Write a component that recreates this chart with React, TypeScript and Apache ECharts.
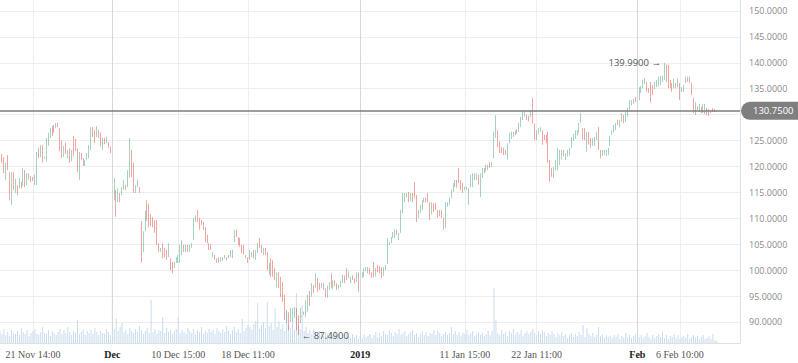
import React, { useEffect, useRef } from 'react';
import * as echarts from 'echarts';

// [open, close] per candle
const candlesLateNov: number[][] = [
  [121.6,125.3],[122.4,120.7],[121.8,118.7],[117.4,120.7],[122.2,119.3],[118.9,113.5],[112.6,118.9],[118.9,115.5],[114.9,117.6],[116.4,114.5],
  [115.8,117.8],[117.0,115.8],[116.2,119.7],[119.3,116.0],[116.4,118.7],[117.4,118.7],[118.2,117.0],[118.0,117.2],[116.4,118.4],[116.4,122.8],
  [123.6,121.6],[121.8,124.1],[124.1,120.8],[121.5,121.9],[121.0,125.5],[124.0,126.5],[125.5,127.4],[127.8,125.9],[128.0,126.5],[127.4,128.4],
  [128.4,127.6],[127.4,123.0],[125.0,121.6],[121.8,124.0],[124.6,122.4],[121.6,123.2],[123.5,120.7],[121.0,123.2],[125.9,122.0],[125.3,123.0],
  [123.5,118.9],[117.4,122.8],[122.6,121.2],[121.6,120.1],[120.1,121.2],[121.2,122.6],[121.6,124.1],[123.2,127.6],[127.6,125.7],[127.0,124.5],
  [125.7,127.8],[127.0,125.5],[126.6,123.8],[123.2,125.5],[125.5,124.3],[124.5,125.7],[124.7,123.6],[123.8,122.6],[123.6,122.6],
];
const candlesDec: number[][] = [
  [113.5,117.8],[115.5,110.3],[113.1,115.8],[114.9,113.1],[114.5,116.0],[115.5,117.4],[116.4,115.5],[116.0,119.3],[117.8,125.5],[123.2,118.0],
  [120.7,114.9],[114.9,116.4],[116.0,117.4],[116.0,114.9],[109.5,101.5],[103.5,107.5],[107.5,111.5],[113.5,109.5],[112.9,108.3],[110.8,108.5],
  [110.2,108.3],[109.7,107.2],[109.7,104.9],[105.2,103.5],[103.5,104.3],[105.2,102.3],[104.3,102.5],[103.9,102.0],[102.5,105.2],[102.3,100.0],
  [101.6,99.4],[100.4,101.6],[101.4,102.5],[101.4,102.9],[101.4,104.9],[102.9,105.8],[104.9,103.5],[103.5,104.9],[104.9,103.5],[103.5,104.9],
  [104.3,105.2],[105.8,110.1],[109.3,110.6],[111.6,109.3],[110.1,107.8],[109.7,108.7],[109.3,107.8],[108.3,105.4],[106.8,105.2],[105.2,103.9],
  [105.0,103.9],[102.5,103.5],[102.9,102.0],[101.4,102.3],[102.5,101.4],[101.6,102.5],[101.8,102.5],[102.9,102.3],[101.8,102.5],[102.9,102.3],
  [102.5,103.9],[102.3,103.9],[105.4,107.8],[107.8,106.4],[106.4,104.9],[106.2,104.5],[104.9,103.3],[104.9,103.0],[102.9,102.3],[102.5,101.4],
];
const candlesLateDec: number[][] = [
  [102.0,103.9],[102.5,103.5],[103.9,102.3],[102.0,103.9],[103.3,105.2],[106.2,104.3],[104.9,103.3],[102.9,104.3],[104.3,102.9],[103.5,100.0],
  [99.1,101.4],[102.3,98.7],[101.9,98.7],[100.4,98.1],[96.7,99.6],[99.6,96.5],[98.7,94.8],[97.7,93.9],[95.2,90.4],[89.8,92.3],
  [91.9,88.4],[90.0,92.7],[90.0,92.7],[90.8,92.9],[92.7,88.4],[91.3,87.49],[89.8,92.7],[91.0,91.2],[92.0,91.4],[91.0,94.2],
  [92.0,95.2],[96.0,93.1],[94.9,97.5],[97.1,95.6],[96.6,99.4],[98.5,95.8],[97.5,96.2],[96.5,97.5],[97.5,96.2],[96.5,94.8],
  [94.7,97.0],[96.2,97.7],[99.4,96.6],[96.3,98.0],[98.0,96.9],[97.5,96.2],[96.4,97.2],[96.7,98.0],[97.5,99.1],[99.0,97.5],
  [100.4,98.1],[98.5,99.8],[97.5,98.7],[99.0,98.1],[98.5,97.4],[97.7,99.6],[99.6,95.8],[97.7,99.6],[98.5,99.6],[98.7,100.4],
  [99.8,100.6],
];
const candlesEarlyJan: number[][] = [
  [99.4,100.6],[100.4,99.1],[99.6,98.5],[101.6,98.7],[98.8,100.4],[101.0,99.6],[100.8,99.4],[100.6,98.5],[98.9,100.6],[100.0,101.0],
  [101.2,106.2],[104.9,105.4],[105.2,106.4],[106.2,107.4],[106.2,107.8],[107.8,106.8],[105.8,107.2],[107.2,111.6],[111.0,114.9],[113.1,114.9],
  [114.0,114.9],[115.1,113.1],[113.3,114.9],[114.9,113.1],[117.0,113.9],[114.5,109.3],[110.1,111.6],[111.1,112.6],[111.6,113.5],[113.1,114.0],
  [114.0,113.1],[114.9,113.1],[113.1,109.7],[110.8,113.1],[112.9,111.3],[112.9,111.6],[111.6,110.1],[111.6,110.4],[111.6,110.1],[110.1,107.8],
  [108.1,113.1],[112.2,113.1],[112.6,114.0],[113.9,115.5],[115.1,116.8],[116.0,117.4],[117.4,115.9],[119.7,116.8],[117.4,115.5],[116.8,114.9],
  [115.4,116.1],[115.5,116.1],[112.6,115.8],[116.0,118.4],[116.0,118.7],[117.4,118.7],[117.4,118.7],[118.4,116.5],[114.1,118.7],[117.8,119.7],
  [119.7,118.7],[119.0,120.3],[119.3,120.3],[120.9,119.7],
];
const candlesLateJan: number[][] = [
  [119.9,120.9],[121.6,126.7],[125.5,129.9],[127.0,123.8],[124.9,122.6],[123.8,122.6],[123.6,122.2],[123.2,122.2],[121.3,124.5],[124.5,126.5],
  [125.3,126.7],[125.7,126.7],[126.0,127.0],[127.2,126.3],[126.7,128.4],[127.6,129.6],[129.0,130.5],[129.6,130.7],[130.0,129.0],[129.8,128.7],
  [129.5,130.7],[133.2,128.3],[128.3,125.1],[125.1,127.0],[126.2,127.4],[126.7,127.6],[127.0,124.2],[126.1,125.1],[126.1,124.5],[126.7,120.7],
  [121.3,117.0],[119.7,118.0],[117.8,119.9],[119.3,121.3],[119.3,123.6],[120.3,123.2],[121.3,123.2],[123.2,122.0],[121.3,122.6],[121.9,123.2],
  [122.2,123.6],[123.6,125.7],[124.9,126.3],[125.3,127.0],[126.0,127.0],[126.5,128.4],[128.4,130.3],[127.4,125.1],[127.4,125.1],[122.8,126.7],
  [126.7,124.2],[125.5,123.6],[124.0,125.5],[124.0,125.7],[125.1,126.7],[127.6,123.2],[123.2,121.6],[122.0,123.2],[122.2,123.2],[122.0,123.2],
  [122.2,123.6],
];
const candlesFeb: number[][] = [
  [124.0,125.9],[126.1,127.0],[126.5,128.0],[127.0,128.4],[129.0,128.0],[127.6,129.0],[128.6,130.3],[130.0,128.4],[128.6,130.5],[129.6,131.3],
  [130.9,132.8],[131.8,132.8],[132.1,133.0],[133.4,132.4],[135.1,131.3],[132.8,135.3],[134.2,135.5],[135.1,136.7],[135.9,137.1],[136.3,134.4],
  [135.1,134.2],[136.3,132.4],[135.7,133.8],[134.9,136.3],[135.3,136.7],[135.5,137.3],[135.7,137.5],[136.3,137.5],[136.7,139.99],[139.7,136.3],
  [139.6,135.1],[136.7,135.1],[136.1,134.4],[135.1,136.9],[136.1,135.1],[135.3,137.1],[136.1,132.8],[134.4,135.3],[134.4,135.7],[136.1,137.3],
  [137.3,136.3],[137.3,136.1],[136.1,133.8],[133.2,130.3],[129.9,132.4],[131.6,130.9],[130.5,132.1],[131.5,130.3],[130.3,132.1],[130.1,132.1],
  [131.3,129.9],[131.1,129.7],[130.3,130.9],[131.3,130.5],[131.1,130.5],[130.6,130.75],
];

// volume heights (arbitrary units)
const volumeLateNov = [12,9,14,8,11,7,13,10,9,12,8,15,11,9,13,7,10,12,14,9,8,11,16,10,9,13,7,12,10,8,11,14,9,13,10,16,11,8,12,10,23,9,11,14,8,12,10,13,9,15,11,8,12,10,9,14,11,8,70];
const volumeDec = [14,25,12,16,20,11,13,9,15,12,10,14,11,17,13,9,12,15,10,43,11,14,9,13,12,26,10,15,11,13,9,12,14,26,10,13,11,9,15,12,10,14,8,13,11,16,9,12,10,14,11,13,9,15,12,10,14,11,17,12,9,13,16,11,14,10,24,12,15,18];
const volumeLateDec = [16,13,19,22,40,14,18,21,15,41,17,20,13,35,16,22,14,19,12,32,18,15,21,13,50,17,14,38,12,16,10,13,9,14,11,8,12,10,7,11,9,6,10,8,12,7,9,5,8,6,10,7,5,9,6,8,4,7,5,9,6];
const volumeEarlyJan = [7,9,5,8,11,6,10,7,12,9,8,13,10,7,11,9,14,8,10,12,7,9,11,13,8,10,6,9,12,8,11,7,10,9,13,8,12,10,7,9,11,8,10,16,9,12,8,11,7,10,9,13,8,10,12,7,9,11,8,10,7,9,12,8];
const volumeLateJan = [12,55,23,10,8,13,9,11,7,12,10,14,8,11,9,13,7,10,12,9,11,14,10,8,12,9,13,11,7,10,8,12,9,6,10,8,11,7,9,5,8,10,6,9,7,11,8,18,6,15,9,7,10,6,8,16,7,9,5,8,6];
const volumeFeb = [7,5,8,6,9,4,7,5,10,6,8,5,7,9,4,6,8,5,7,10,6,4,8,5,7,9,6,11,5,8,4,7,6,9,5,8,4,6,7,5,9,4,6,8,5,7,3,6,8,4,5,7,4,9,3,2];

const tickIndex = [17, 58, 92, 128, 186, 240, 277, 329, 351];
const tickLabels = ['21 Nov 14:00', 'Dec', '10 Dec 15:00', '18 Dec 11:00', '2019', '11 Jan 15:00', '22 Jan 11:00', 'Feb', '6 Feb 10:00'];
const boldTicks = ['Dec', '2019', 'Feb'];
const priceTicks = [90, 95, 100, 105, 110, 115, 120, 125, 130, 135, 140, 145, 150];
const priceMin = 85.948;
const priceMax = 152.122;
const lastPrice = 130.75;
const SLOTS = 383;

export default function App() {
  const ref = useRef<HTMLDivElement>(null);
  useEffect(() => {
    if (!ref.current) return;
    const chart = echarts.init(ref.current, undefined, { renderer: 'svg' });
    const oc = [...candlesLateNov, ...candlesDec, ...candlesLateDec, ...candlesEarlyJan, ...candlesLateJan, ...candlesFeb];
    const candles = oc.map(([o, c]) => [o, c, Math.min(o, c), Math.max(o, c)]);
    const volumes = [...volumeLateNov, ...volumeDec, ...volumeLateDec, ...volumeEarlyJan, ...volumeLateJan, ...volumeFeb];
    const cats = Array.from({ length: SLOTS }, (_, i) => 'k' + i);
    const labelMap: Record<number, string> = {};
    tickIndex.forEach((idx, k) => (labelMap[idx] = tickLabels[k]));
    const isTick = (i: number) => labelMap[i] !== undefined;
    const monthLines = tickIndex.filter((_, k) => boldTicks.includes(tickLabels[k])).map((i) => ({ xAxis: 'k' + i }));
    // the 130 label is covered by the last-price tag in the reference
    const labelTicks = priceTicks.filter((v) => Math.abs(v - lastPrice) > 2);
    const grid = '#eceef1';
    const up = '#4fa57a';
    const down = '#e24e43';

    chart.setOption({
      animation: false,
      backgroundColor: '#ffffff',
      grid: [{ left: 0, right: 58, top: 0, bottom: 20 }],
      xAxis: [
        {
          type: 'category', gridIndex: 0, data: cats, boundaryGap: false,
          axisLine: { show: true, lineStyle: { color: '#dde1e5' } },
          axisTick: { show: false, interval: (i: number) => isTick(i) },
          axisLabel: {
            interval: (i: number) => isTick(i),
            margin: 6,
            fontFamily: 'Liberation Serif',
            fontSize: 10,
            formatter: (_v: string, i: number) => {
              const t = labelMap[i];
              if (!t) return '';
              return boldTicks.includes(t) ? `{b|${t}}` : `{n|${t}}`;
            },
            rich: {
              b: { fontFamily: 'Liberation Serif', fontSize: 10, fontWeight: 'bold', color: '#1a1a1a' },
              n: { fontFamily: 'Liberation Serif', fontSize: 10, color: '#555555' },
            },
          },
          splitLine: { show: true, interval: (i: number) => isTick(i), lineStyle: { color: grid, width: 1 } },
        },
      ],
      yAxis: [
        {
          type: 'value', gridIndex: 0, position: 'right', min: priceMin, max: priceMax,
          axisLine: { show: false },
          axisTick: { show: false, customValues: priceTicks },
          axisLabel: {
            customValues: labelTicks, margin: 9,
            color: '#8a8a8a', fontFamily: 'Open Sans', fontSize: 9,
            formatter: (v: number) => v.toFixed(4),
          },
          splitLine: { show: true, lineStyle: { color: grid, width: 1 } },
        },
        {
          type: 'value', gridIndex: 0, position: 'right', min: 0, max: 343,
          axisLine: { show: true, lineStyle: { color: '#dde1e5' } },
          axisTick: { show: false }, axisLabel: { show: false }, splitLine: { show: false },
        },
      ],
      series: [
        {
          type: 'bar', xAxisIndex: 0, yAxisIndex: 1, data: volumes, barWidth: 1, silent: true, z: 1,
          itemStyle: { color: '#c9dcee' },
          markLine: {
            silent: true, symbol: ['none', 'none'], label: { show: false },
            lineStyle: { color: '#d3d8dc', width: 1, type: 'solid' },
            data: monthLines,
          },
        },
        {
          type: 'candlestick', xAxisIndex: 0, yAxisIndex: 0, data: candles, barWidth: 1, z: 3,
          itemStyle: { color: up, color0: down, borderColor: up, borderColor0: down, borderWidth: 0.5 },
          markLine: {
            silent: true, symbol: ['none', 'none'],
            lineStyle: { color: '#7c7c7c', width: 1.5, type: 'solid' },
            label: {
              show: true, position: 'end', distance: 1,
              formatter: () => lastPrice.toFixed(4),
              backgroundColor: '#7f7f7f', color: '#ffffff', fontFamily: 'Open Sans', fontSize: 9.5,
              padding: [4, 10, 4, 12], borderRadius: [9, 2, 2, 9],
            },
            data: [{ yAxis: lastPrice }],
          },
          markPoint: {
            symbol: 'circle', symbolSize: 1, itemStyle: { color: 'rgba(0,0,0,0)' },
            data: [
              {
                type: 'max', valueDim: 'highest',
                label: { show: true, position: 'left', distance: 3, color: '#555', fontFamily: 'Open Sans', fontSize: 9.5,
                  formatter: (p: any) => `${Number(p.value).toFixed(4)} →` },
              },
              {
                type: 'min', valueDim: 'lowest',
                label: { show: true, position: 'right', distance: 3, color: '#555', fontFamily: 'Open Sans', fontSize: 9.5,
                  formatter: (p: any) => `← ${Number(p.value).toFixed(4)}` },
              },
            ],
          },
        },
      ],
    });
    return () => chart.dispose();
  }, []);
  return (
    <div
      ref={ref}
      style={{ position: 'fixed', left: 0, top: 0, width: 798, height: 363, background: '#fff' }}
    />
  );
}
